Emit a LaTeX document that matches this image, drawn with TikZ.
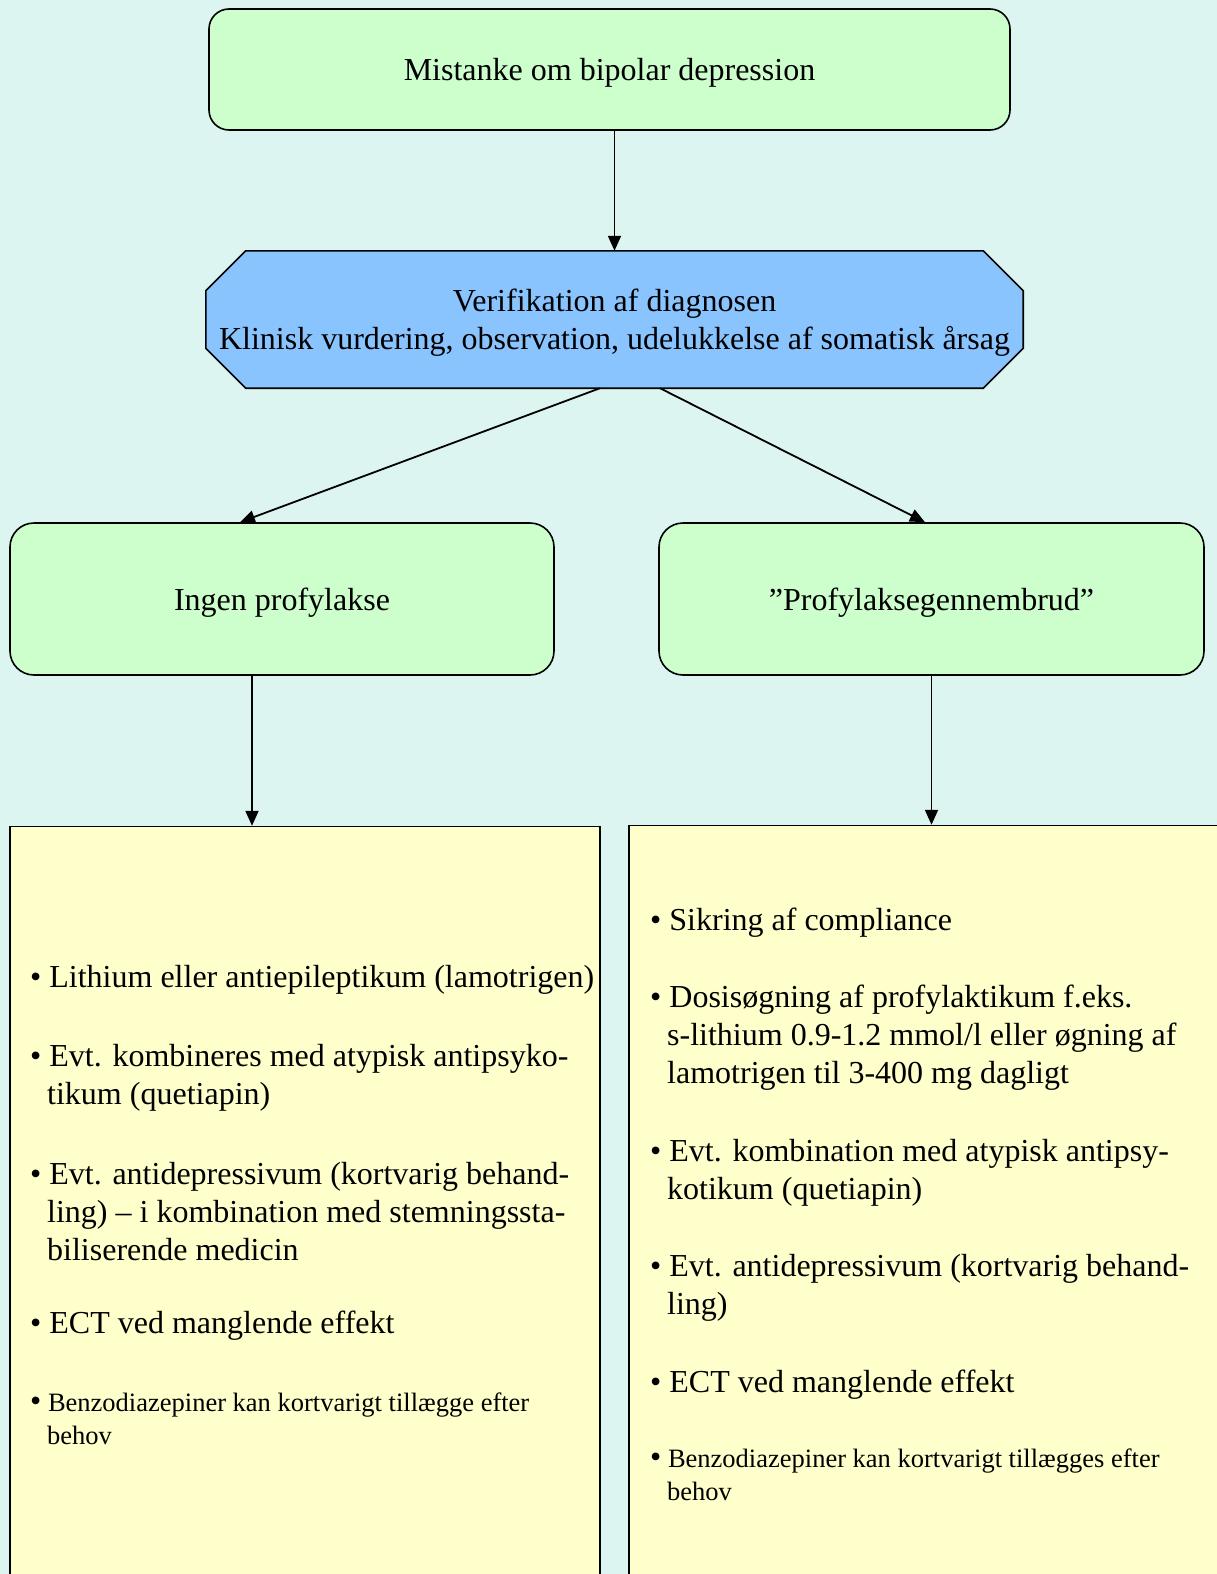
\documentclass[tikz,border=0pt]{standalone}
\usepackage{fontspec}
\setmainfont{Liberation Serif}
\usetikzlibrary{positioning,arrows.meta,backgrounds}

\definecolor{canvas}{RGB}{221,245,240}
\definecolor{boxgreen}{RGB}{204,255,204}
\definecolor{boxblue}{RGB}{138,196,255}
\definecolor{boxyellow}{RGB}{255,255,204}

\newcommand{\bul}{\textbullet\ }
\newcommand{\sbul}{{\fontsize{32}{38}\selectfont\textbullet}\ }
\newcommand{\ind}{\hspace*{17pt}}

\tikzset{
    every node/.style={inner sep=0pt},
    big/.style={font=\fontsize{32}{38}\selectfont},
    small/.style={font=\fontsize{26.5}{33}\selectfont},
    greenbox/.style={draw, fill=boxgreen, line width=1.6pt, rounded corners=24pt, big, text depth=0pt},
    octa/.style={draw, fill=boxblue, line width=1.6pt},
    treatbox/.style={draw, fill=boxyellow, line width=1.6pt},
    item/.style={anchor=west, align=left},
    arr/.style={-{Triangle[length=15pt,width=13pt]}, line width=1.8pt}
}

\begin{document}
\begin{tikzpicture}[x=1pt, y=-1pt]

    \useasboundingbox (0,0) rectangle (1217,1574);
    \clip (0,0) rectangle (1217,1574);

    % Mistanke
    \node [greenbox, rounded corners=20pt, minimum width=801pt, minimum height=121pt] (susp) at (609.5,69.5) {Mistanke om bipolar depression};

    % Verifikation
    \node [big, align=center, text depth=0pt, minimum width=817pt, minimum height=137pt, below=120pt of susp, xshift=5pt] (verif) {Verifikation af diagnosen\\Klinisk vurdering, observation, udelukkelse af somatisk årsag};

    % Grene
    \node [greenbox, minimum width=544pt, minimum height=152pt, below=134pt of verif, xshift=-332.5pt] (ingen) {Ingen profylakse};
    \node [greenbox, minimum width=545pt, minimum height=152pt, below=134pt of verif, xshift=317pt] (prof) {”Profylaksegennembrud”};

    % Behandling
    \node [treatbox, minimum width=590pt, minimum height=790pt, below=150pt of ingen, xshift=23pt] (treatL) {};
    \node [treatbox, minimum width=611pt, minimum height=790pt, below=149pt of prof, xshift=3pt] (treatR) {};

    % Punkter venstre
    \node [item, big] (l1) at (30,980) {\bul Lithium eller antiepileptikum (lamotrigen)};
    \node [item, big] (l2) at (30,1078) {\bul Evt. kombineres med atypisk antipsyko-\\ \ind tikum (quetiapin)};
    \node [item, big] (l3) at (30,1212) {\bul Evt. antidepressivum (kortvarig behand-\\ \ind ling) – i kombination med stemningssta-\\ \ind biliserende medicin};
    \node [item, big] (l4) at (30,1326) {\bul ECT ved manglende effekt};
    \node [item, small] (l5) at (30,1419) {\sbul Benzodiazepiner kan kortvarigt tillægge efter\\ \ind behov};

    % Punkter hoejre
    \node [item, big] (r1) at (650,923) {\bul Sikring af compliance};
    \node [item, big] (r2) at (650,1038) {\bul Dosisøgning af profylaktikum f.eks.\\ \ind s-lithium 0.9-1.2 mmol/l eller øgning af\\ \ind lamotrigen til 3-400 mg dagligt};
    \node [item, big] (r3) at (650,1173) {\bul Evt. kombination med atypisk antipsy-\\ \ind kotikum (quetiapin)};
    \node [item, big] (r4) at (650,1288) {\bul Evt. antidepressivum (kortvarig behand-\\ \ind ling)};
    \node [item, big] (r5) at (650,1385) {\bul ECT ved manglende effekt};
    \node [item, small] (r6) at (650,1475) {\sbul Benzodiazepiner kan kortvarigt tillægges efter\\ \ind behov};

    % Baggrund og ottekant
    \begin{pgfonlayer}{background}
        \fill [canvas] (0,0) rectangle (1217,1574);
        \filldraw [octa] ([xshift=40pt]verif.north west) -- ([xshift=-40pt]verif.north east)
            -- ([yshift=-40pt]verif.north east) -- ([yshift=40pt]verif.south east)
            -- ([xshift=-40pt]verif.south east) -- ([xshift=40pt]verif.south west)
            -- ([yshift=40pt]verif.south west) -- ([yshift=-40pt]verif.north west) -- cycle;
    \end{pgfonlayer}

    % Pile
    \draw [arr] (susp.south -| verif.north) -- (verif.north);
    \draw [arr] ([xshift=-14.5pt]verif.south) -- ([xshift=-42pt]ingen.north);
    \draw [arr] ([xshift=45.5pt]verif.south) -- ([xshift=-6.5pt]prof.north);
    \draw [arr] ([xshift=-30pt]ingen.south) -- ([xshift=-30pt]ingen.south |- treatL.north);
    \draw [arr] (prof.south) -- (prof.south |- treatR.north);

\end{tikzpicture}
\end{document}
